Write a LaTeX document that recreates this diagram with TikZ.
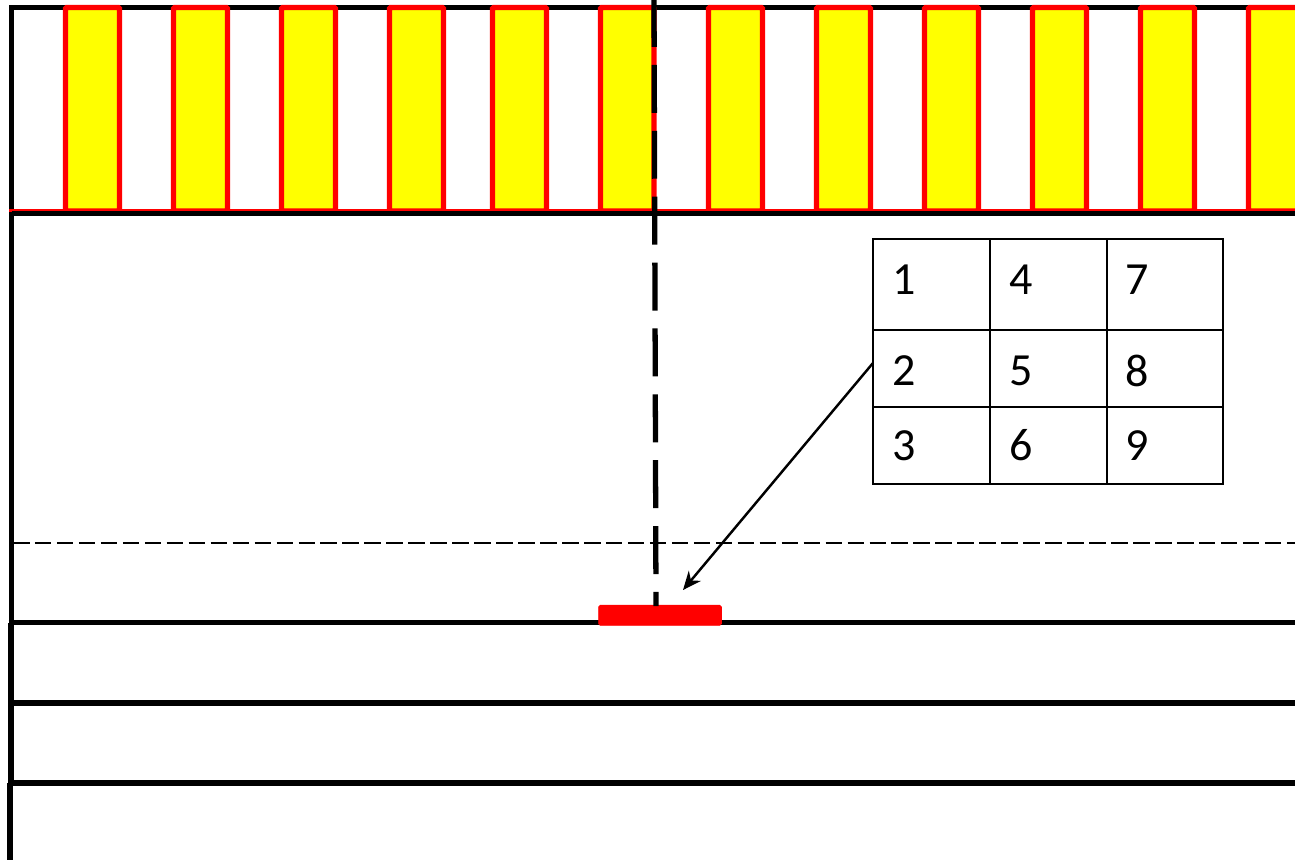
\documentclass[tikz,border=0pt]{standalone}
\usepackage{fontspec}
\setmainfont{Carlito}
\usetikzlibrary{arrows.meta}

\definecolor{barYellow}{RGB}{255,255,0}
\definecolor{barRed}{RGB}{255,0,0}

\tikzset{
  wall/.style={line width=3pt, black},
  stall/.style={line width=2.9pt, draw=barRed, fill=barYellow, rounded corners=.6pt},
  cell/.style={line width=1.3pt, black, line cap=rect},
  digit/.style={font=\fontsize{26.2}{28}\selectfont, inner sep=0pt},
}

\begin{document}
\begin{tikzpicture}[x=.02cm, y=-.02cm]
  \useasboundingbox (0,0) rectangle (1295,860);

  % stalls along the top
  \draw[wall] (1295,7.5) -- (11.5,7.5) -- (11.5,213);
  \foreach \xa/\xb in {65.5/119.5, 173.5/227.5, 281.5/335.5, 389.5/443.5, 492.5/546.5,
                       600.5/654, 708.5/762.5, 816.5/870.5, 924.5/978.5, 1032.5/1086.5,
                       1140.5/1194.5, 1248.5/1302.5}
    \draw[stall] (\xa,7.5) rectangle (\xb,211);
  \draw[line width=1.6pt, barRed] (9,210.5) -- (1295,210.5);
  \draw[wall] (11.5,213.5) -- (1295,213.5);

  % walls below
  \draw[wall] (11.5,213) -- (11.5,622.5);
  \draw[wall] (11,622.5) -- (11,703);
  \draw[wall] (11,703) -- (11,783);
  \draw[wall] (10,783) -- (10,860);
  \foreach \yy in {622.8, 703, 783}
    \draw[wall] (8.5,\yy) -- (1295,\yy);

  % thin dashed line
  \draw[line width=1.15pt, dash pattern=on 9.4pt off 3.1pt] (13,543) -- (1295,543);

  % thick dashed line
  \coordinate (lineTop) at (654,-1);
  \node[draw=barRed, fill=barRed, rounded corners=1pt, inner sep=0pt, line width=.3pt,
        minimum width=70pt, minimum height=11.5pt] (redBar) at (660,615.3) {};
  \draw[line width=3pt, dash pattern=on 27.3pt off 10.2pt] (lineTop) -- (656,606);

  % table
  \foreach \xx in {873, 990, 1107, 1223}
    \draw[cell] (\xx,239) -- (\xx,484);
  \foreach \yy in {239, 330, 407, 484}
    \draw[cell] (873,\yy) -- (1223,\yy);
  \node[digit] (n1) at (904.5,279.5) {1};
  \node[digit] (n4) at (1021,279.5) {4};
  \node[digit] (n7) at (1137.5,279.5) {7};
  \node[digit] (n2) at (904.5,370.5) {2};
  \node[digit] (n5) at (1021,370.5) {5};
  \node[digit] (n8) at (1137.5,370.5) {8};
  \node[digit] (n3) at (904.5,445.5) {3};
  \node[digit] (n6) at (1021,445.5) {6};
  \node[digit] (n9) at (1137.5,445.5) {9};

  % arrow to the bar
  \coordinate (arrowStart) at (873,363);
  \coordinate (arrowEnd) at (683,590);
  \draw[line width=1.4pt, -{Stealth[length=10.5pt, width=9pt]}] (arrowStart) -- (arrowEnd);
\end{tikzpicture}
\end{document}
